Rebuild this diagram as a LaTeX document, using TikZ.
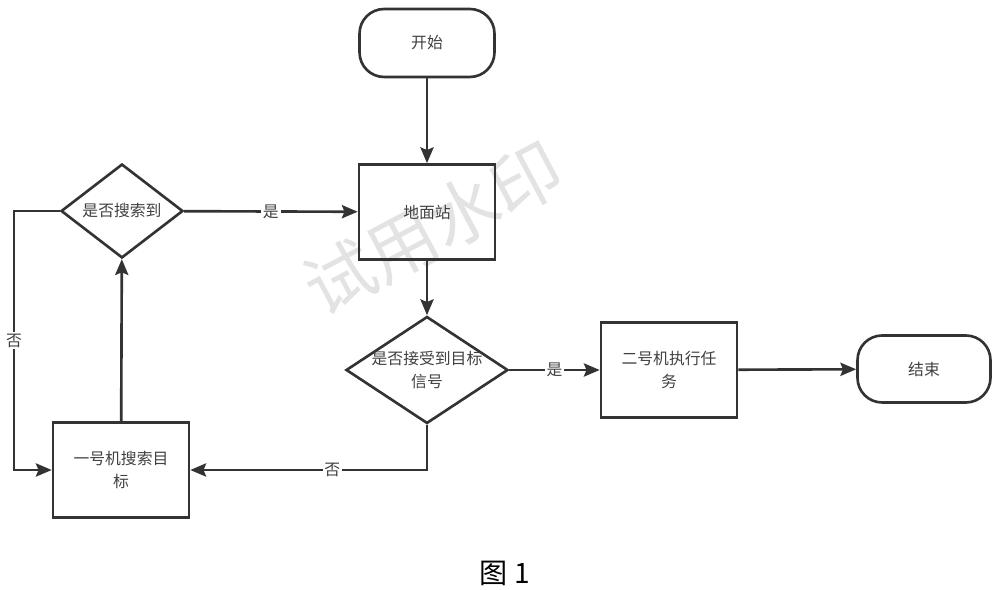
\documentclass[tikz,border=0pt]{standalone}
\usepackage{fontspec}
\setmainfont{Noto Sans CJK SC}
\usetikzlibrary{calc}
\usetikzlibrary{shapes}
\usetikzlibrary{positioning}
\usetikzlibrary{arrows.meta}

\begin{document}
\begin{tikzpicture}[x=0.02cm,y=-0.02cm,->,>={Stealth[length=9pt,width=7.5pt,inset=1.5pt]},
	  line width=1.5pt,color=black!80,font=\fontsize{9}{13}\selectfont,
	  box node/.style={rectangle,draw,text=black!75,align=center,minimum width=2.72cm,minimum height=1.9cm},
	  term node/.style={rectangle,draw,text=black!75,rounded corners=14pt,minimum width=2.7cm,minimum height=1.36cm},
	  cond node/.style={diamond,draw,inner sep=0pt},
	  cond text/.style={text=black!75,align=center},
	  lbl/.style={fill=white,text=black!75,inner sep=1pt}]

	  \useasboundingbox (0,0) rectangle (998,590);

	  % watermark behind everything
	  \node[rotate=28,text=black!11,font=\fontsize{40}{42}\selectfont] (mark) at (433,228) {试用水印};

	  \node[term node] (start) at (427,43) {开始};
	  \node[box node] (ground) at (427,212) {地面站};
	  \node[cond node, minimum width=3.24cm, minimum height=2.14cm,
	        label={[cond text]center:是否接受到目标\\信号}] (signal) at (427,370) {};
	  \node[box node] (task2) at (669,370) {二号机执行任\\务};
	  \node[term node, minimum width=2.66cm, minimum height=1.34cm] (finish) at (924,369) {结束};
	  \node[cond node, minimum width=2.44cm, minimum height=1.88cm,
	        label={[cond text]center:是否搜索到}] (found) at (122,211) {};
	  \node[box node] (search1) at (121,470) {一号机搜索目\\标};
	  \coordinate (corner) at (14,211);

	  \node[text=black,font=\fontsize{16}{18}\selectfont] (caption) at (505,573) {图 1};

	  \path
	    	(start) 	edge 	(ground)
	 	(ground)	edge  	(signal)
	 	(signal)	edge  	node [lbl] 	{是} (task2)
	 	(task2)	edge  	(finish)
	 	(search1)	edge  	(found)
	 	(found)	edge  	node [lbl] 	{是} (ground);
	  \draw (signal.south) |- node [lbl, pos=0.7] {否} (search1.east);
	  \draw (found.west) -- (corner) |- node [lbl, pos=0.25] {否} (search1.west);
	\end{tikzpicture}
\end{document}
